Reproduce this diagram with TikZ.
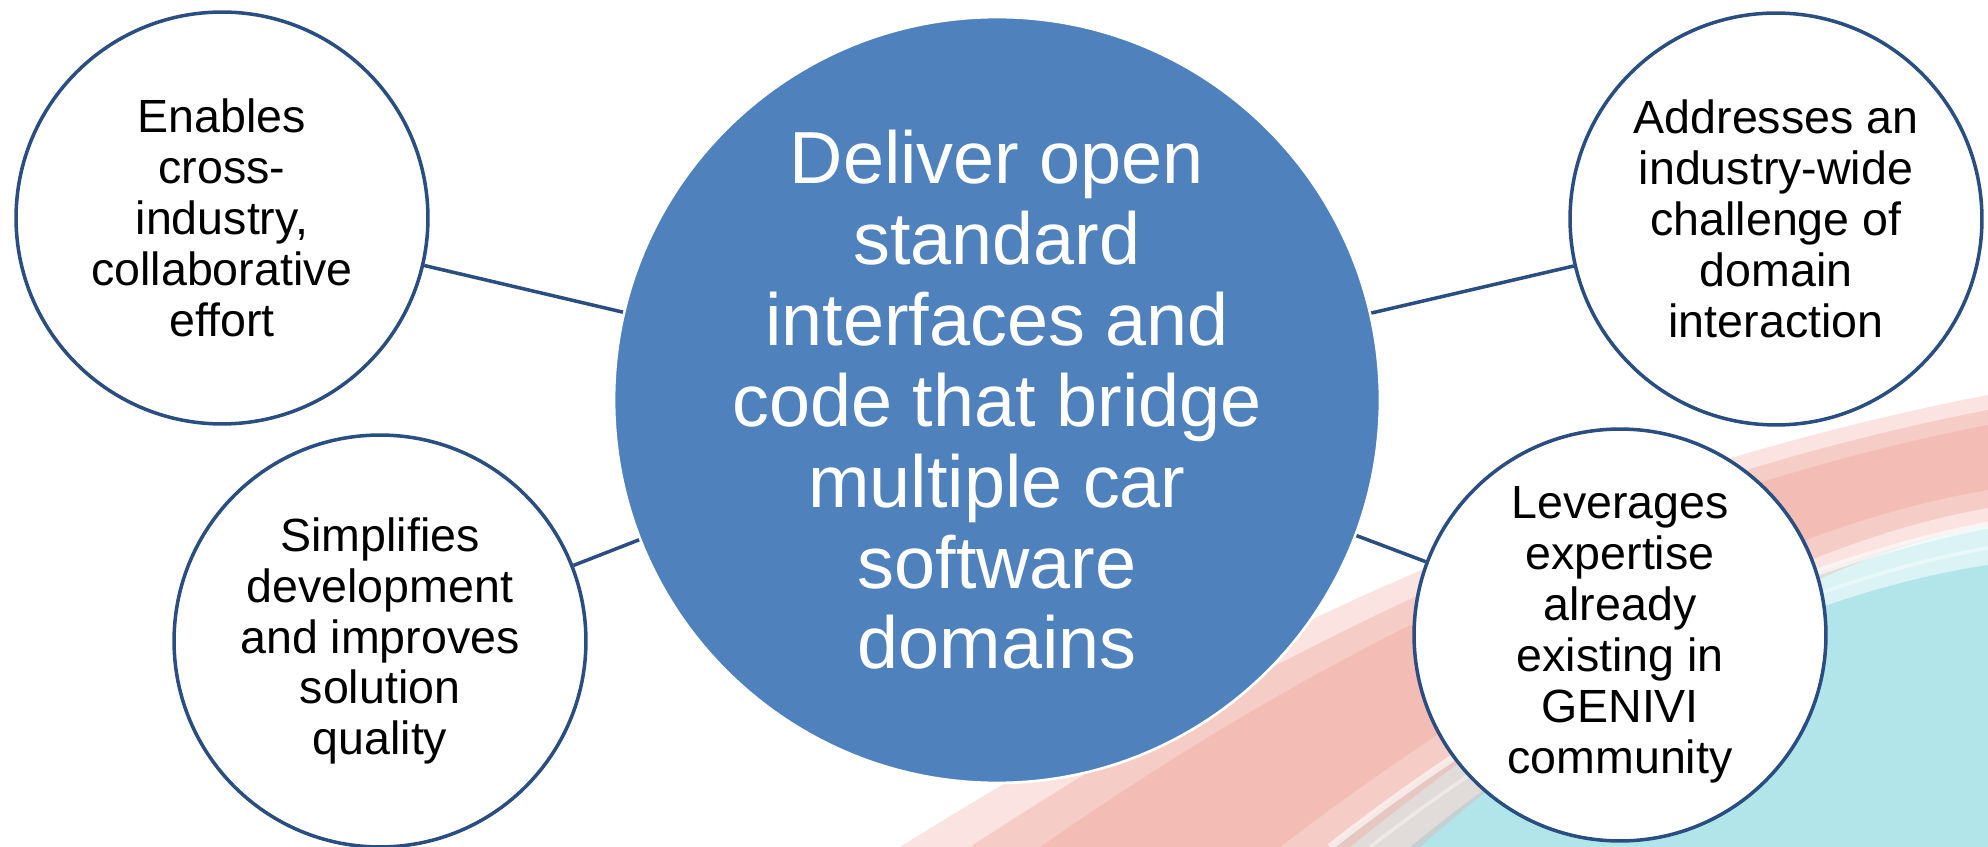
\documentclass[tikz,border=0pt]{standalone}
\usepackage{fontspec}
\setmainfont{Liberation Sans}
\definecolor{coreblue}{HTML}{4F81BD}
\definecolor{ringblue}{HTML}{2A4E82}
\definecolor{swooshpink}{HTML}{EFA298}
\definecolor{swooshcyan}{HTML}{B2E5EA}
\tikzset{
  core/.style={circle, fill=coreblue, draw=white, line width=1.5pt, text=white,
    minimum size=15.32cm, inner sep=0pt, align=center,
    font=\fontsize{42}{46}\selectfont},
  idea/.style={circle, fill=white, draw=ringblue, line width=2pt, text=black,
    minimum size=8.24cm, inner sep=0pt, align=center,
    font=\fontsize{26.5}{29}\selectfont},
  link/.style={draw=ringblue, line width=2pt}
}
\begin{document}
\begin{tikzpicture}[x=0.02cm,y=-0.02cm]
  \useasboundingbox (0,0) rectangle (1988,847);

  % background swoosh
  \fill[swooshcyan, opacity=0.45] (1330,847) .. controls (1530,690) and (1760,570) .. (1988,525) -- (1988,847) -- cycle;
  \fill[swooshcyan] (1410,847) .. controls (1590,700) and (1790,595) .. (1988,565) -- (1988,847) -- cycle;
  \fill[swooshpink, opacity=0.3] (900,847) .. controls (1200,660) and (1550,480) .. (1988,395) -- (1988,525) .. controls (1800,560) and (1600,690) .. (1420,847) -- cycle;
  \fill[swooshpink, opacity=0.35] (970,847) .. controls (1240,670) and (1575,490) .. (1988,410) -- (1988,508) .. controls (1775,545) and (1550,685) .. (1350,847) -- cycle;
  \fill[swooshpink, opacity=0.4] (1040,847) .. controls (1280,680) and (1600,500) .. (1988,425) -- (1988,490) .. controls (1750,530) and (1500,680) .. (1280,847) -- cycle;
  \draw[white, opacity=0.6, line width=4pt] (1330,847) .. controls (1530,690) and (1760,570) .. (1988,525);
  \draw[white, opacity=0.4, line width=2pt] (1370,847) .. controls (1560,700) and (1780,585) .. (1988,548);

  % circles
  \node[core] (goal) at (997,400) {Deliver open\\standard\\interfaces and\\code that bridge\\multiple car\\software\\domains};
  \node[idea] (collab) at (222,218) {Enables\\cross-\\industry,\\collaborative\\effort};
  \node[idea] (quality) at (380,641) {Simplifies\\development\\and improves\\solution\\quality};
  \node[idea] (challenge) at (1776,219) {Addresses an\\industry-wide\\challenge of\\domain\\interaction};
  \node[idea] (expertise) at (1620,635) {Leverages\\expertise\\already\\existing in\\GENIVI\\community};

  % connectors
  \draw[link] (goal) -- (collab);
  \draw[link] (goal) -- (quality);
  \draw[link] (goal) -- (challenge);
  \draw[link] (goal) -- (expertise);
\end{tikzpicture}
\end{document}
